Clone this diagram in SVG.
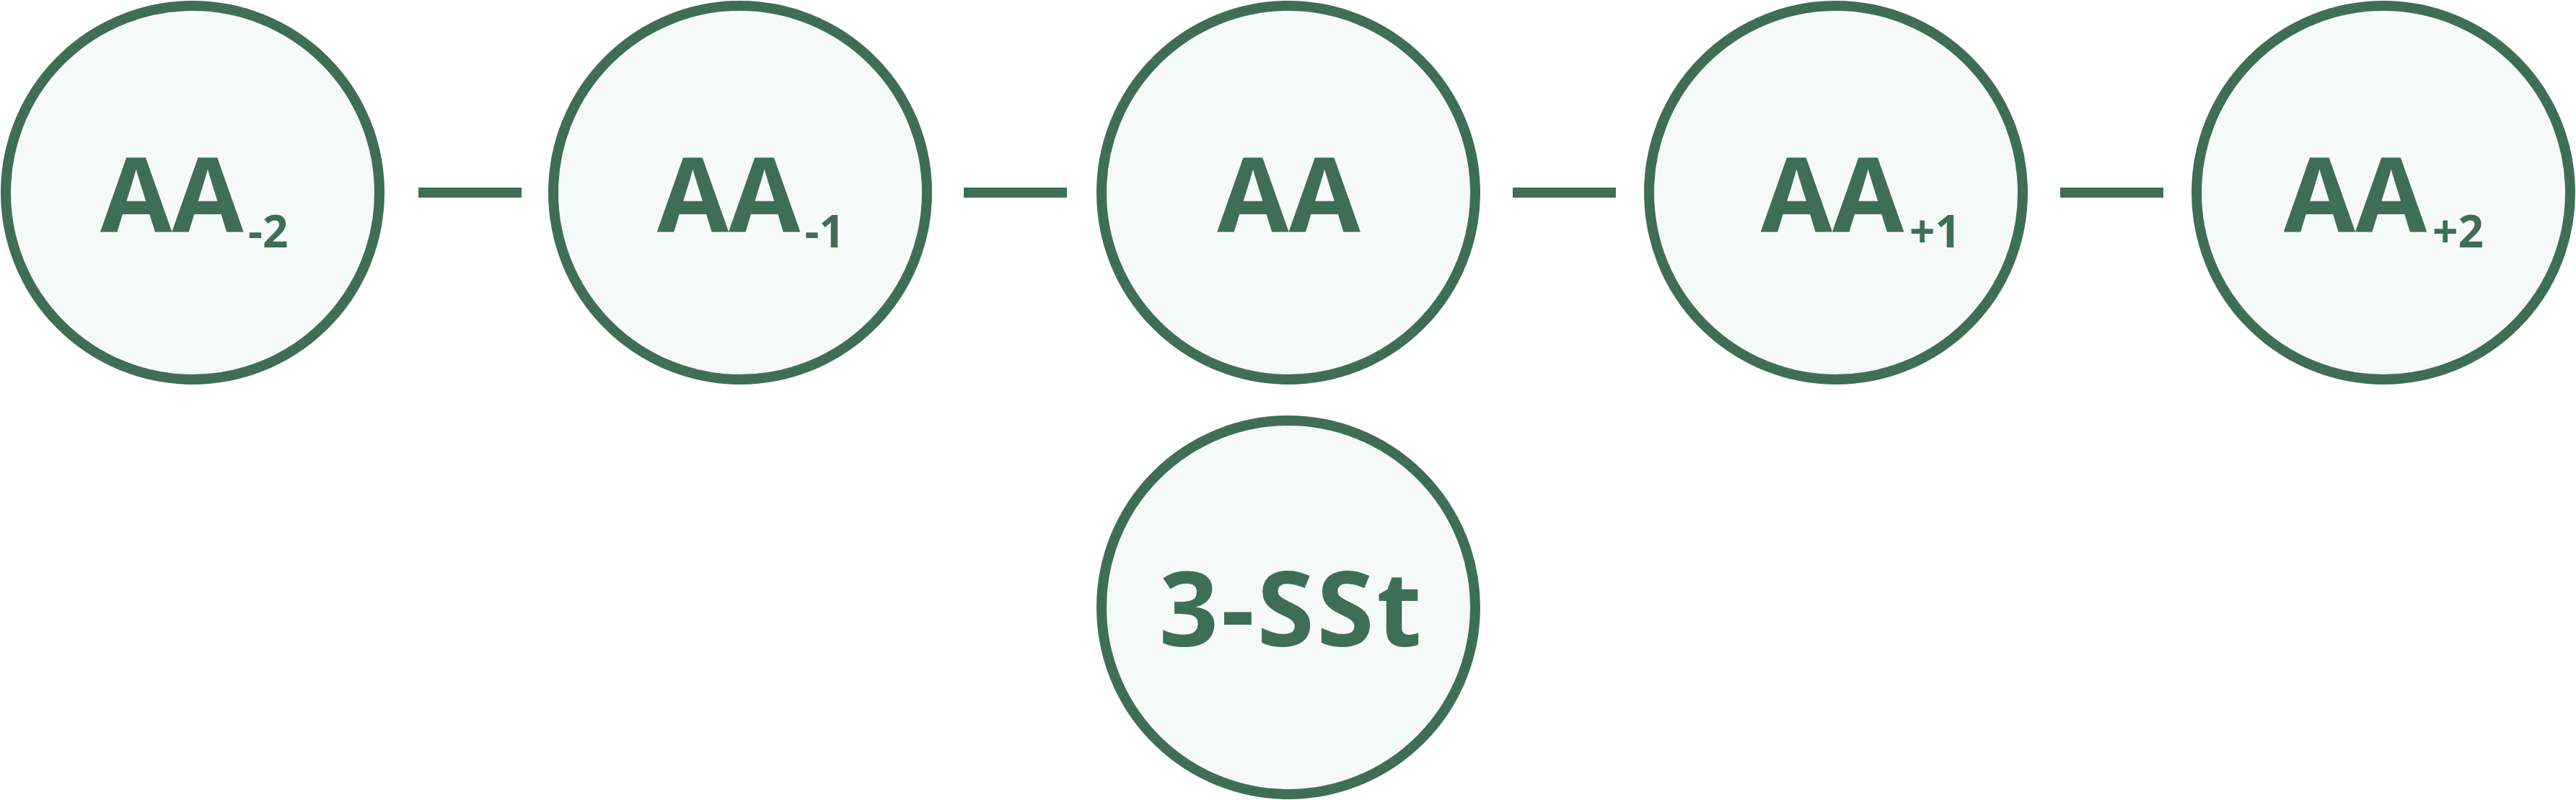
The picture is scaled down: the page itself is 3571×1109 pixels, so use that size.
<svg xmlns="http://www.w3.org/2000/svg" width="3571" height="1109" viewBox="0 0 3571 1109">
<style>
.node circle{fill:#F5F9F8;stroke:#3F6E56;stroke-width:14}
.lbl{font-family:"Open Sans","Noto Sans","DejaVu Sans",sans-serif;font-weight:700;fill:#3F6E56;font-size:144px}
.sub{font-size:62px}
.wide{letter-spacing:3.5px}
.edge{stroke:#3F6E56;stroke-width:14;fill:none}
</style>
<rect width="3571" height="1109" fill="#FFFFFF"/>
<g id="connectors">
<line class="edge" x1="580" y1="267" x2="723" y2="267"/>
<line class="edge" x1="1336" y1="267" x2="1479" y2="267"/>
<line class="edge" x1="2097" y1="267" x2="2240" y2="267"/>
<line class="edge" x1="2856" y1="267" x2="2999" y2="267"/>
</g>
<g id="node-aa-2" class="node">
<circle cx="267" cy="267" r="259"/>
<text class="lbl"><tspan x="238.3" y="321" text-anchor="middle">AA</tspan><tspan class="sub" x="344" y="343" text-anchor="start">-2</tspan></text>
</g>
<g id="node-aa-1" class="node">
<circle cx="1026" cy="267" r="259"/>
<text class="lbl"><tspan x="1010" y="321" text-anchor="middle">AA</tspan><tspan class="sub" x="1115.5" y="343" text-anchor="start">-1</tspan></text>
</g>
<g id="node-aa" class="node">
<circle cx="1786" cy="267" r="259"/>
<text class="lbl" x="1786.5" y="321" text-anchor="middle">AA</text>
</g>
<g id="node-aa+1" class="node">
<circle cx="2545" cy="267" r="259"/>
<text class="lbl"><tspan x="2540" y="321" text-anchor="middle">AA</tspan><tspan class="sub" x="2647" y="343" text-anchor="start">+1</tspan></text>
</g>
<g id="node-aa+2" class="node">
<circle cx="3304" cy="267" r="259"/>
<text class="lbl"><tspan x="3265" y="321" text-anchor="middle">AA</tspan><tspan class="sub" x="3372" y="343" text-anchor="start">+2</tspan></text>
</g>
<g id="node-3sst" class="node">
<circle cx="1786" cy="842" r="259"/>
<text class="lbl wide" x="1790.5" y="896" text-anchor="middle">3-SSt</text>
</g>
</svg>
